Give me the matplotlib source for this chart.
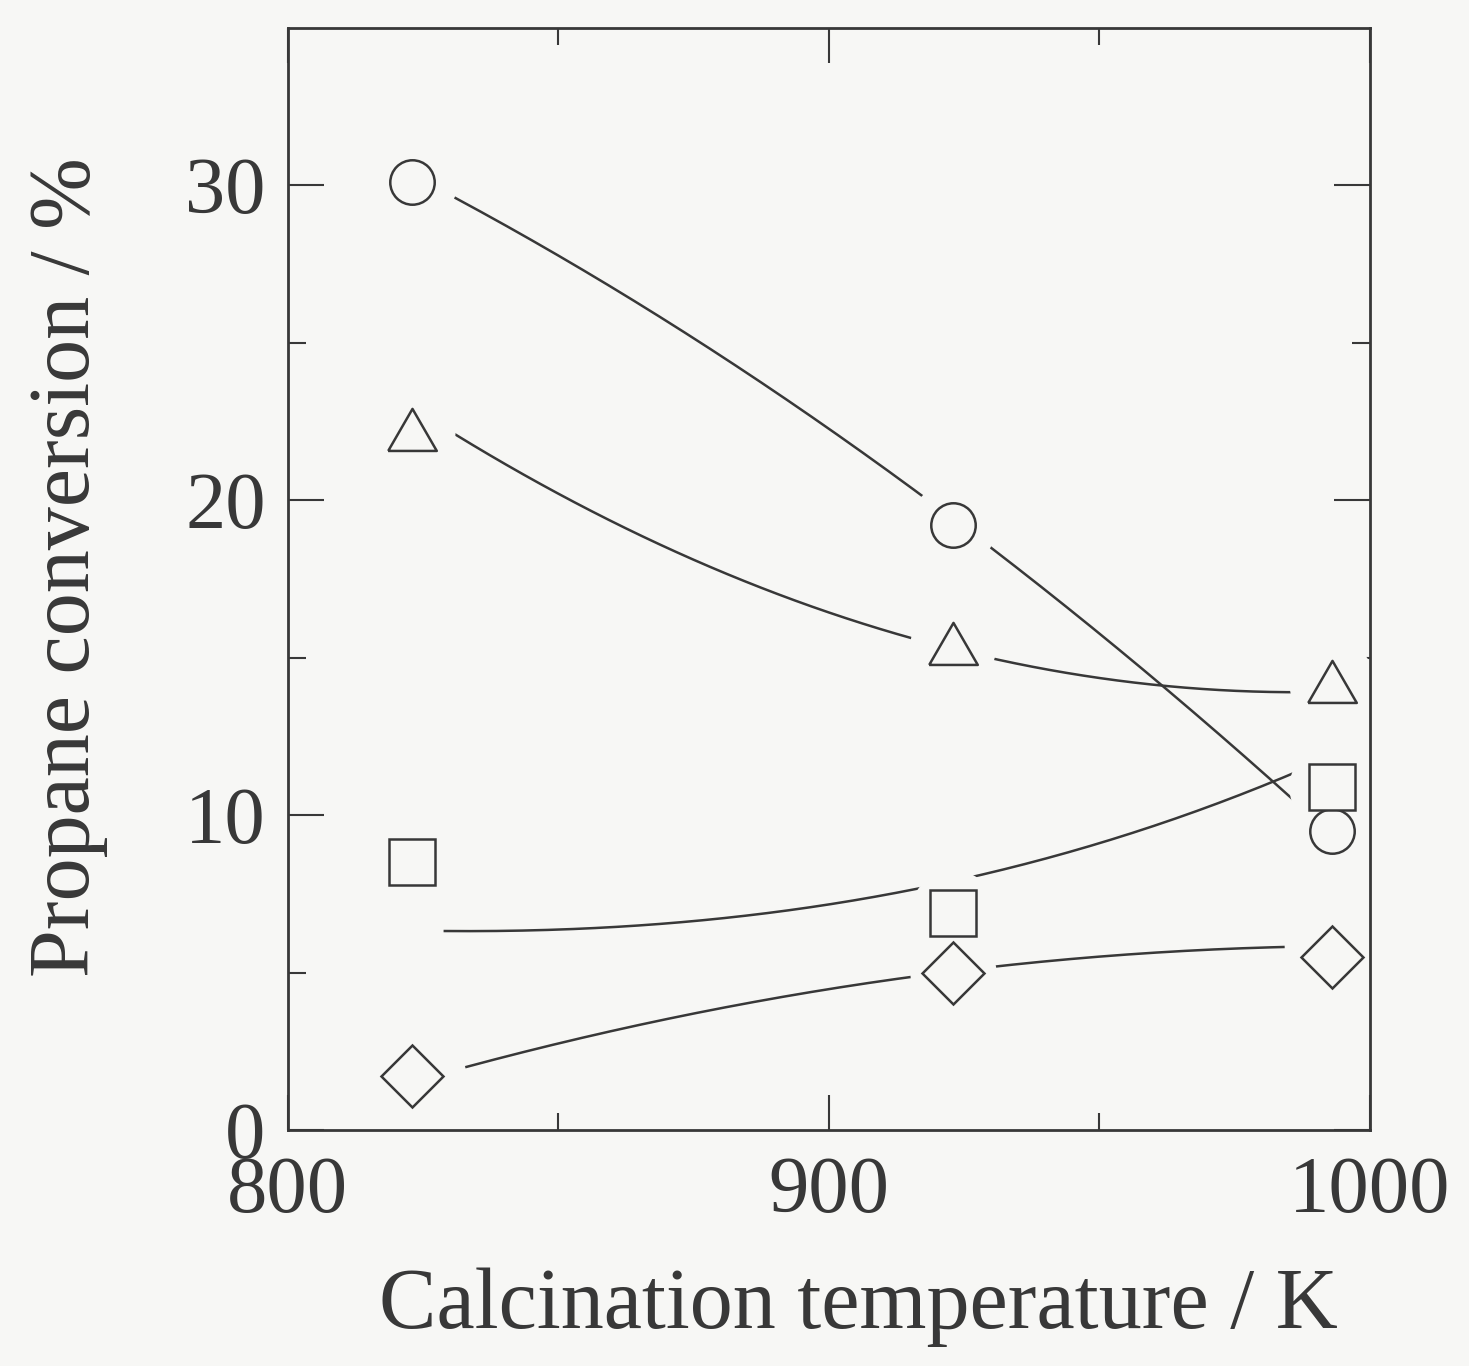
import numpy as np
import matplotlib
matplotlib.use('Agg')
import matplotlib.pyplot as plt

# calcination temperatures (K) and measured propane conversion (%)
temps = [823, 923, 993]
circle = [30.1, 19.2, 9.5]
triangle = [22.2, 15.4, 14.2]
square = [8.5, 6.9, 10.9]
diamond = [1.7, 5.0, 5.5]

# points along the drawn trend curves
circle_fit_t = [831, 918, 931, 987]
circle_fit_y = [29.6, 20.0, 18.4, 10.3]
triangle_fit_t = [831, 873, 916, 932, 962, 987]
triangle_fit_y = [22.0, 18.5, 15.4, 14.85, 14.2, 13.9]
square_fit_t = [829, 878, 915, 929, 959, 987]
square_fit_y = [6.3, 6.77, 7.6, 7.95, 9.8, 11.35]
diamond_fit_t = [833, 874, 914, 934, 984]
diamond_fit_y = [2.03, 3.6, 4.83, 5.31, 5.79]

bg = '#f7f7f5'
ink = '#383838'
plt.rcParams['font.family'] = ['Liberation Serif', 'DejaVu Serif']

tri = [(-1, -0.8), (1, -0.8), (0, 0.93), (-1, -0.8)]

# (values, curve t, curve y, fit degree, marker, size)
series = [
    (circle, circle_fit_t, circle_fit_y, 2, 'o', 32),
    (triangle, triangle_fit_t, triangle_fit_y, 2, tri, 35),
    (square, square_fit_t, square_fit_y, 3, 's', 33),
    (diamond, diamond_fit_t, diamond_fit_y, 2, 'D', 32),
]

fig = plt.figure(figsize=(14.69, 13.66), dpi=100, facecolor=bg)
ax = fig.add_axes([0.196, 0.1728, 0.7366, 0.8067], facecolor=bg)

# trend curves
for vals, ft, fy, deg, m, ms in series:
    coef = np.polyfit(ft, fy, deg)
    xs = np.linspace(ft[0], ft[-1], 200)
    ax.plot(xs, np.polyval(coef, xs), color=ink, lw=1.8, zorder=1)

# blank space around each marker so the curves break there
for vals, ft, fy, deg, m, ms in series:
    ax.plot(temps, vals, ls='none', marker='o', ms=62, mfc=bg, mec='none', zorder=2)

for vals, ft, fy, deg, m, ms in series:
    ax.plot(temps, vals, ls='none', marker=m, ms=ms, mfc=bg, mec=ink, mew=1.8, zorder=3)

ax.set_xlim(800, 1000)
ax.set_ylim(0, 35)
ax.set_xticks([800, 900, 1000])
ax.set_xticks([850, 950], minor=True)
ax.set_yticks([0, 10, 20, 30])
ax.set_yticks([5, 15, 25], minor=True)

ax.tick_params(which='both', direction='in', top=True, right=True, width=1.5, color=ink,
               labelsize=58, labelcolor=ink)
ax.tick_params(axis='x', which='major', length=25, pad=19)
ax.tick_params(axis='x', which='minor', length=12)
ax.tick_params(axis='y', which='major', length=26, pad=16)
ax.tick_params(axis='y', which='minor', length=13)

for s in ax.spines.values():
    s.set_linewidth(2)
    s.set_color(ink)

ax.set_xlabel('Calcination temperature / K', fontsize=62, color=ink)
ax.set_ylabel('Propane conversion / %', fontsize=62, color=ink)
ax.xaxis.set_label_coords(0.527, -0.125)
ax.yaxis.set_label_coords(-0.166, 0.511)

fig.savefig('out.png', dpi=100, facecolor=bg)
